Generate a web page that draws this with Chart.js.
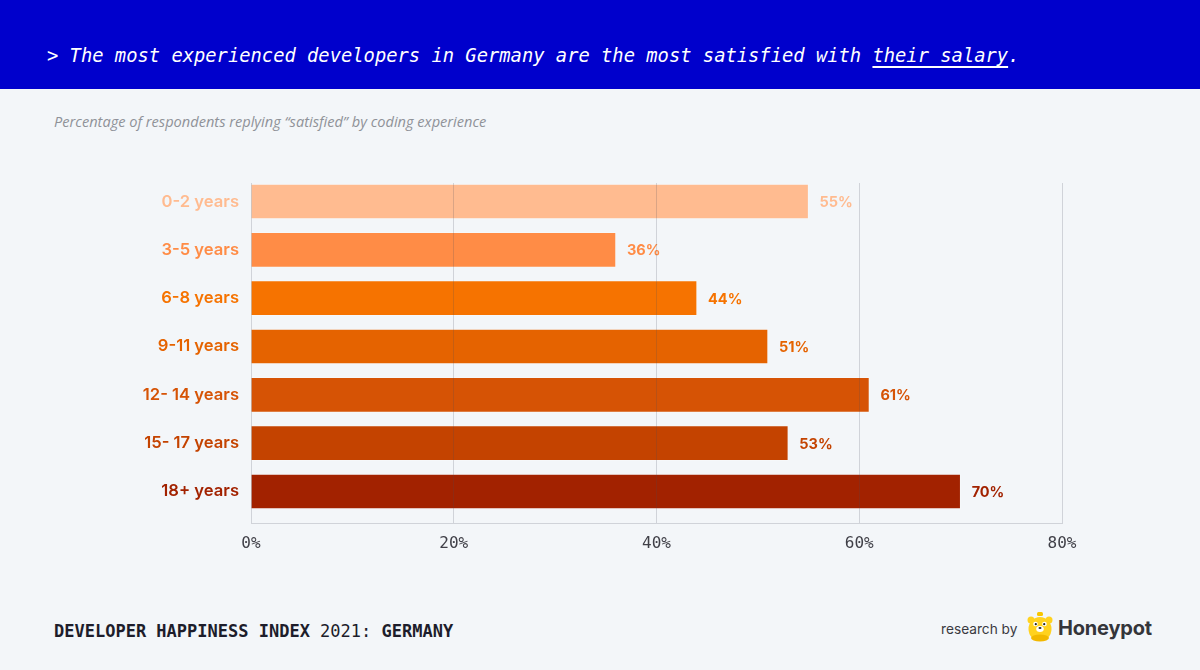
<!DOCTYPE html>
<html>
<head>
<meta charset="utf-8">
<script src="https://cdn.jsdelivr.net/npm/chart.js@4"></script>
<style>
  html, body { margin: 0; padding: 0; }
  body { width: 1200px; height: 670px; background: #F3F6F9; position: relative; overflow: hidden; font-family: Inter, "Open Sans", sans-serif; }
  #header { position: absolute; left: 0; top: 0; width: 1200px; height: 89px; background: #0000CC; }
  #title { position: absolute; left: 47px; top: 43px; color: #fff; font-family: "DejaVu Sans Mono", monospace; font-style: italic; font-size: 18.8px; line-height: 26px; white-space: pre; }
  #title u { text-decoration-thickness: 1.5px; text-underline-offset: 4px; }
  #subtitle { position: absolute; left: 54px; top: 111px; color: #8f9298; font-family: "Open Sans", sans-serif; font-style: italic; font-size: 14.6px; line-height: 20px; }
  #wrap { position: absolute; left: 0; top: 140px; width: 1200px; height: 430px; }
  #footer { position: absolute; left: 54px; top: 620px; font-family: "DejaVu Sans Mono", monospace; font-size: 17px; line-height: 22px; color: #1d1d2b; white-space: pre; }
  #footer b { font-weight: bold; }
  #research { position: absolute; left: 941px; top: 620px; font-family: Inter, sans-serif; font-size: 13.7px; line-height: 18px; color: #3a3a3f; }
  #logo { position: absolute; left: 1027px; top: 611px; }
  #brand { position: absolute; left: 1058px; top: 615px; font-family: Inter, sans-serif; font-weight: 700; font-size: 20px; line-height: 26px; color: #34353a; letter-spacing: -0.2px; }
</style>
</head>
<body>
<div id="header"></div>
<div id="title">&gt; The most experienced developers in Germany are the most satisfied with <u>their salary</u>.</div>
<div id="subtitle">Percentage of respondents replying “satisfied” by coding experience</div>
<div id="wrap"><canvas id="c"></canvas></div>
<div id="footer"><b>DEVELOPER HAPPINESS INDEX</b> 2021: <b>GERMANY</b></div>
<div id="research">research by</div>
<svg id="logo" width="26" height="32" viewBox="0 0 26 32">
  <rect x="10" y="1" width="6" height="4" rx="1.5" fill="#F7C600"/>
  <ellipse cx="13" cy="18" rx="11.5" ry="12" fill="#FFD21F"/>
  <circle cx="4" cy="9" r="3.5" fill="#FFD21F"/>
  <circle cx="22" cy="9" r="3.5" fill="#FFD21F"/>
  <ellipse cx="13" cy="27" rx="9" ry="3.5" fill="#F2B800"/>
  <circle cx="8.5" cy="13" r="2.3" fill="#fff"/>
  <circle cx="17.5" cy="13" r="2.3" fill="#fff"/>
  <circle cx="8.8" cy="13.2" r="1.1" fill="#222"/>
  <circle cx="17.2" cy="13.2" r="1.1" fill="#222"/>
  <ellipse cx="13" cy="18" rx="3.8" ry="3" fill="#fff"/>
  <ellipse cx="13" cy="17" rx="1.5" ry="1" fill="#222"/>
</svg>
<div id="brand">Honeypot</div>
<script>
const categories = ["0-2 years", "3-5 years", "6-8 years", "9-11 years", "12- 14 years", "15- 17 years", "18+ years"];
const values = [55, 36, 44, 51, 61, 53, 70];
const barColors = ["#FFBB90", "#FF8C46", "#F67300", "#E56300", "#D65305", "#C44300", "#A22200"];
const xTicks = [0, 20, 40, 60, 80];

const points = values.map((v, i) => ({ x: v, y: i }));

const valueLabels = {
  id: 'valueLabels',
  afterDatasetsDraw(chart) {
    const ctx = chart.ctx;
    const meta = chart.getDatasetMeta(0);
    ctx.save();
    ctx.font = '700 14.5px Inter, sans-serif';
    ctx.textAlign = 'left';
    ctx.textBaseline = 'middle';
    meta.data.forEach((bar, i) => {
      ctx.fillStyle = barColors[i];
      ctx.fillText(values[i] + '%', bar.x + 11, bar.y + 1);
    });
    ctx.restore();
  }
};

new Chart(document.getElementById('c'), {
  type: 'bar',
  data: {
    datasets: [{
      data: points,
      backgroundColor: barColors,
      borderColor: 'rgba(255,255,255,0.25)',
      borderWidth: 1,
      borderSkipped: 'start',
      barThickness: 35
    }]
  },
  plugins: [valueLabels],
  options: {
    indexAxis: 'y',
    responsive: true,
    maintainAspectRatio: false,
    animation: false,
    layout: { padding: { left: 0, right: 138, top: 43, bottom: 0 } },
    plugins: { legend: { display: false }, tooltip: { enabled: false } },
    scales: {
      x: {
        type: 'linear',
        position: 'bottom',
        min: 0, max: 80,
        bounds: 'data',
        afterBuildTicks: s => { s.ticks = xTicks.map(v => ({ value: v })); },
        afterFit: s => { s.height = 47; },
        grid: { color: 'rgba(70,75,90,0.2)', lineWidth: 1, drawTicks: false, z: 1 },
        border: { display: true, color: 'rgba(70,75,90,0.2)', z: 1 },
        ticks: {
          padding: 11,
          color: '#404048',
          font: { family: '"DejaVu Sans Mono", monospace', size: 16 },
          callback: v => v + '%'
        }
      },
      y: {
        type: 'linear',
        position: 'left',
        reverse: true,
        offset: false,
        bounds: 'data',
        min: -0.383, max: 6.652,
        afterBuildTicks: s => { s.ticks = categories.map((_, i) => ({ value: i })); },
        afterFit: s => { s.width = 251; },
        grid: { display: false, offset: false },
        border: { display: false },
        ticks: {
          padding: 4,
          color: c => barColors[c.index],
          font: { family: 'Inter, sans-serif', size: 16.6, weight: '600' },
          callback: v => categories[v]
        }
      }
    }
  }
});
</script>
</body>
</html>
